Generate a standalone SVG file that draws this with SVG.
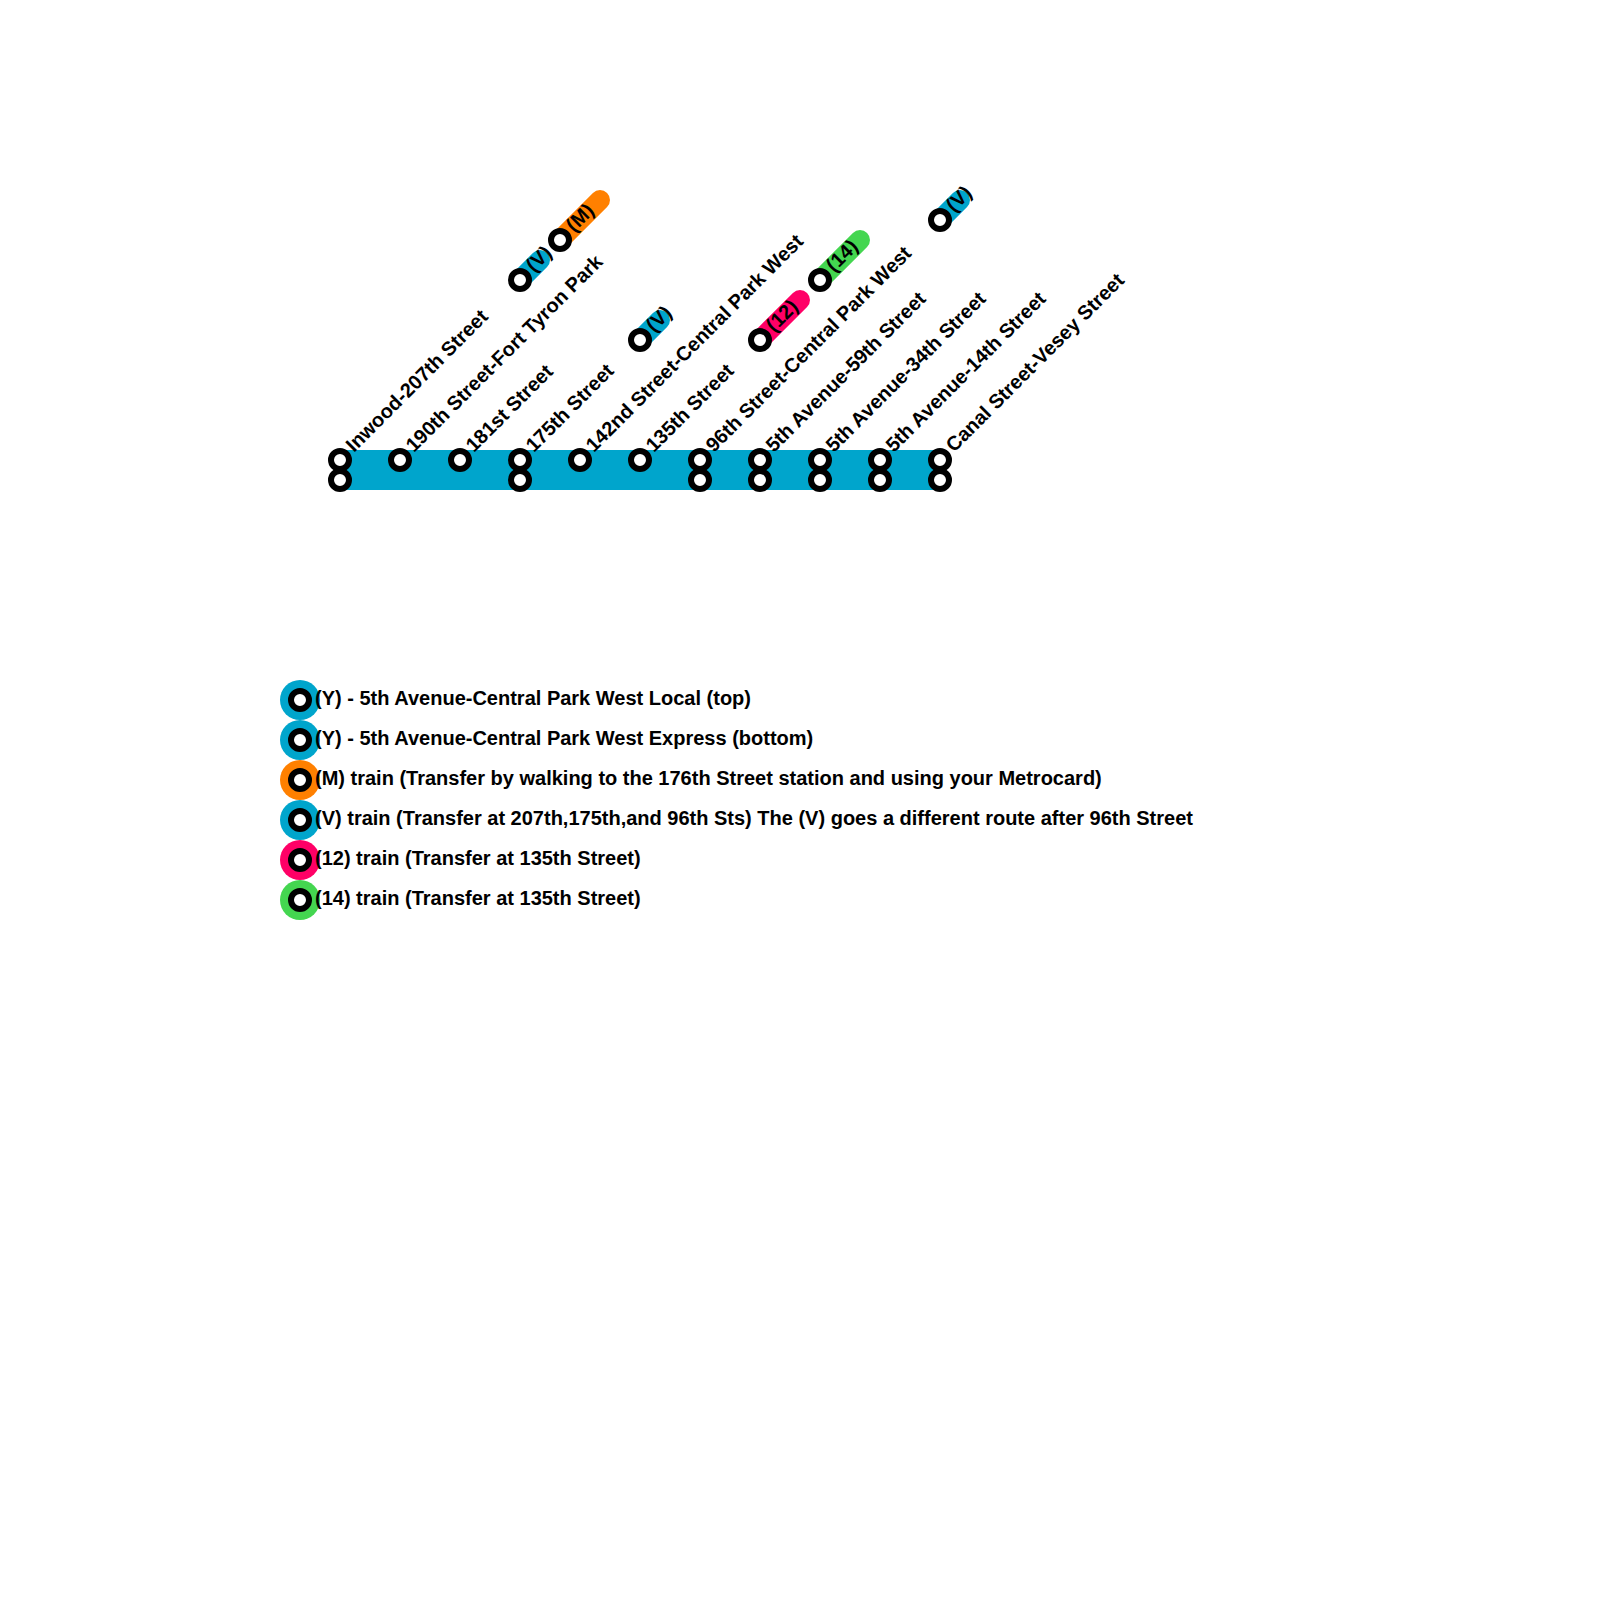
<svg xmlns="http://www.w3.org/2000/svg" width="1600" height="1600" viewBox="0 0 1600 1600">
<style>
text{font-family:"Liberation Sans",Arial,sans-serif;font-weight:bold;fill:#000}
.st{font-size:20px}
.lg{font-size:20px}
.b{fill:none;stroke-width:20;stroke-linecap:round}
.s{fill:#fff;stroke:#000;stroke-width:6}
.teal{stroke:#00a5cc}.orange{stroke:#ff8000}.pink{stroke:#ff0066}.green{stroke:#44d650}
.ft{fill:#00a5cc}.fo{fill:#ff8000}.fp{fill:#ff0066}.fg{fill:#44d650}
</style>
<g id="connectors">
<rect x="340" y="450" width="600" height="40" class="ft"/>
<path class="b teal" d="M520 280L540 260"/>
<path class="b orange" d="M560 240L600 200"/>
<path class="b teal" d="M640 340L660 320"/>
<path class="b pink" d="M760 340L800 300"/>
<path class="b green" d="M820 280L860 240"/>
<path class="b teal" d="M940 220L960 200"/>
</g>
<g id="st-inwood"><circle class="s" cx="340" cy="460" r="9"/><circle class="s" cx="340" cy="480" r="9"/><text class="st" transform="translate(354 453) rotate(-45)">Inwood-207th Street</text></g>
<g id="st-190"><circle class="s" cx="400" cy="460" r="9"/><text class="st" transform="translate(414 453) rotate(-45)">190th Street-Fort Tyron Park</text></g>
<g id="st-181"><circle class="s" cx="460" cy="460" r="9"/><text class="st" transform="translate(474 453) rotate(-45)">181st Street</text></g>
<g id="st-175"><circle class="s" cx="520" cy="460" r="9"/><circle class="s" cx="520" cy="480" r="9"/><text class="st" transform="translate(534 453) rotate(-45)">175th Street</text></g>
<g id="st-142"><circle class="s" cx="580" cy="460" r="9"/><text class="st" transform="translate(594 453) rotate(-45)">142nd Street-Central Park West</text></g>
<g id="st-135"><circle class="s" cx="640" cy="460" r="9"/><text class="st" transform="translate(654 453) rotate(-45)">135th Street</text></g>
<g id="st-96"><circle class="s" cx="700" cy="460" r="9"/><circle class="s" cx="700" cy="480" r="9"/><text class="st" transform="translate(714 453) rotate(-45)">96th Street-Central Park West</text></g>
<g id="st-59"><circle class="s" cx="760" cy="460" r="9"/><circle class="s" cx="760" cy="480" r="9"/><text class="st" transform="translate(774 453) rotate(-45)">5th Avenue-59th Street</text></g>
<g id="st-34"><circle class="s" cx="820" cy="460" r="9"/><circle class="s" cx="820" cy="480" r="9"/><text class="st" transform="translate(834 453) rotate(-45)">5th Avenue-34th Street</text></g>
<g id="st-14"><circle class="s" cx="880" cy="460" r="9"/><circle class="s" cx="880" cy="480" r="9"/><text class="st" transform="translate(894 453) rotate(-45)">5th Avenue-14th Street</text></g>
<g id="st-canal"><circle class="s" cx="940" cy="460" r="9"/><circle class="s" cx="940" cy="480" r="9"/><text class="st" transform="translate(954 453) rotate(-45)">Canal Street-Vesey Street</text></g>
<g id="tr-v1"><circle class="s" cx="520" cy="280" r="9"/><text class="st" transform="translate(534 273) rotate(-45)">(V)</text></g>
<g id="tr-m"><circle class="s" cx="560" cy="240" r="9"/><text class="st" transform="translate(574 233) rotate(-45)">(M)</text></g>
<g id="tr-v2"><circle class="s" cx="640" cy="340" r="9"/><text class="st" transform="translate(654 333) rotate(-45)">(V)</text></g>
<g id="tr-12"><circle class="s" cx="760" cy="340" r="9"/><text class="st" transform="translate(774 333) rotate(-45)">(12)</text></g>
<g id="tr-14"><circle class="s" cx="820" cy="280" r="9"/><text class="st" transform="translate(834 273) rotate(-45)">(14)</text></g>
<g id="tr-v3"><circle class="s" cx="940" cy="220" r="9"/><text class="st" transform="translate(954 213) rotate(-45)">(V)</text></g>
<g id="lg-1"><circle class="ft" cx="300" cy="700" r="20"/><circle class="s" cx="300" cy="700" r="9"/><text class="lg" x="315" y="705">(Y) - 5th Avenue-Central Park West Local (top)</text></g>
<g id="lg-2"><circle class="ft" cx="300" cy="740" r="20"/><circle class="s" cx="300" cy="740" r="9"/><text class="lg" x="315" y="745">(Y) - 5th Avenue-Central Park West Express (bottom)</text></g>
<g id="lg-3"><circle class="fo" cx="300" cy="780" r="20"/><circle class="s" cx="300" cy="780" r="9"/><text class="lg" x="315" y="785">(M) train (Transfer by walking to the 176th Street station and using your Metrocard)</text></g>
<g id="lg-4"><circle class="ft" cx="300" cy="820" r="20"/><circle class="s" cx="300" cy="820" r="9"/><text class="lg" x="315" y="825">(V) train (Transfer at 207th,175th,and 96th Sts) The (V) goes a different route after 96th Street</text></g>
<g id="lg-5"><circle class="fp" cx="300" cy="860" r="20"/><circle class="s" cx="300" cy="860" r="9"/><text class="lg" x="315" y="865">(12) train (Transfer at 135th Street)</text></g>
<g id="lg-6"><circle class="fg" cx="300" cy="900" r="20"/><circle class="s" cx="300" cy="900" r="9"/><text class="lg" x="315" y="905">(14) train (Transfer at 135th Street)</text></g>
</svg>
